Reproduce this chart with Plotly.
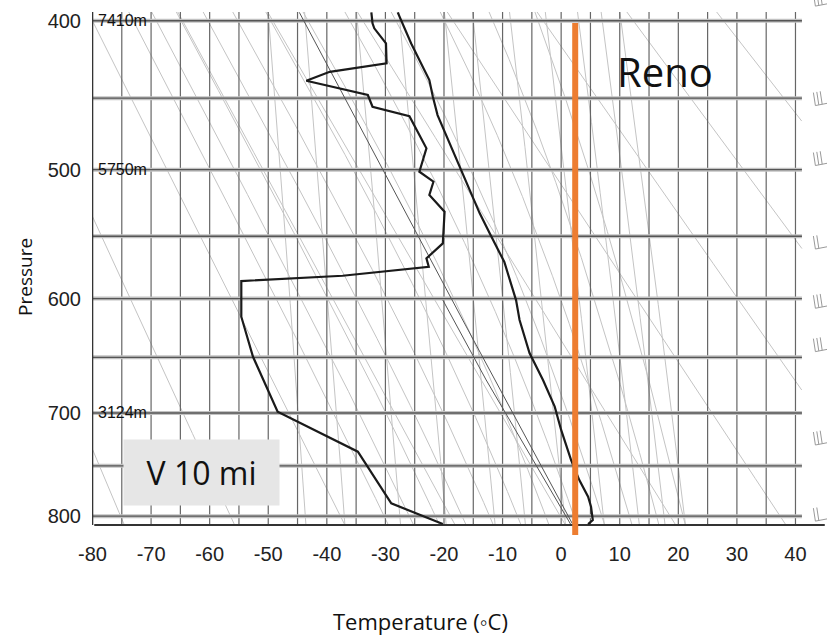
import numpy as np
import plotly.graph_objects as go

# Stuve-type diagram: temperature on x, p**KAPPA (linear) on y
KAPPA = 0.286

# ---- axis labelling ----
temperature_ticks = [-80, -70, -60, -50, -40, -30, -20, -10, 0, 10, 20, 30, 40]
pressure_ticks = [400, 500, 600, 700, 800]
isobar_levels = [400, 450, 500, 550, 600, 650, 700, 750, 800]
isotherm_levels = [-80, -75, -70, -65, -60, -55, -50, -45, -40, -35, -30, -25, -20,
                   -15, -10, -5, 0, 5, 10, 15, 20, 25, 30, 35, 40]
height_levels = [400, 500, 700]
height_text = ["7410m", "5750m", "3124m"]

# ---- diagram extent (deg C, hPa) ----
T_LEFT, T_RIGHT = -80.0, 41.1
P_TOP, P_BOTTOM = 394.6, 809.0
X_RANGE = [-80.085, 45.38]
P_RANGE = [824.4, 387.3]

# ---- sounding: temperature ----
temp_p = [394.8, 414.2, 437.9, 449.0, 461.5, 502.7, 532.4, 547.7, 570.3, 601.2,
          617.9, 646.2, 670.0, 694.2, 715.8, 744.4, 763.9, 780.4, 790.4, 803.9, 808.0]
temp_t = [-27.9, -25.6, -22.5, -21.9, -21.1, -16.8, -13.9, -12.2, -9.7, -7.7,
          -7.1, -5.4, -3.1, -1.1, 0.0, 1.7, 3.1, 4.6, 5.1, 5.4, 4.6]

# ---- sounding: dewpoint ----
dew_p = [394.8, 401.6, 404.7, 414.2, 427.0, 432.5, 438.4, 447.9, 455.8, 462.2,
         484.7, 501.5, 508.8, 518.6, 531.2, 555.6, 567.4, 574.1, 581.3, 585.6,
         615.1, 649.5, 698.8, 736.4, 787.0, 808.0]
dew_t = [-32.4, -32.2, -31.9, -29.9, -29.8, -39.5, -43.5, -33.0, -32.2, -25.9,
         -23.0, -24.2, -21.8, -22.5, -19.9, -20.2, -23.0, -22.6, -37.3, -54.6,
         -54.6, -52.6, -48.4, -34.7, -29.0, -20.2]

# ---- lifted parcel / surface adiabat ----
parcel_p = [394.8, 617.9, 807.5]
parcel_t = [-44.7, -16.8, 1.9]
surface_p = [601.2, 670.0, 809.0]
surface_t = [-20.2, -12.8, 1.7]

# ---- reference line families ----
dry_theta = [211, 231, 251, 271, 291, 311, 331, 351, 371, 391, 411]        # K
moist_theta_w = [-16, -12, -8, -4, 0, 4, 8, 12, 16, 20, 24, 28]           # deg C at 1000 hPa
mixing_ratios = [0.1, 0.2, 0.5, 1, 2, 3, 5, 8, 12, 16, 20]                # g/kg

# ---- marked temperature ----
marker_t = 2.4
marker_p = [401.4, 819.3]

# ---- wind barbs along the right edge ----
barb_p = [391, 455, 497, 560, 608, 645, 730, 805]
barb_feathers = [3, 3, 3, 2, 3, 3, 3, 2]


def u(p):
    return np.asarray(p, dtype=float) ** KAPPA


P_LINE = np.linspace(P_TOP, P_BOTTOM, 900)


def dry_adiabat(theta):
    return theta * (P_LINE / 1000.0) ** KAPPA - 273.15


def sat_vp(tc):
    return 6.112 * np.exp(17.67 * tc / (tc + 243.5))


def mixing_ratio_line(w):
    e = (w / 1000.0) * P_LINE / (0.622 + w / 1000.0)
    lg = np.log(e / 6.112)
    return 243.5 * lg / (17.67 - lg)


def moist_adiabat(t1000):
    rd, cp, lv, eps = 287.04, 1005.7, 2.501e6, 0.622

    def lapse(p, tk):
        es = sat_vp(tk - 273.15)
        rs = eps * es / (p - es)
        return (rd * tk + lv * rs) / (p * (cp + lv * lv * rs * eps / (rd * tk * tk)))

    ps = np.linspace(1000.0, P_TOP - 1.0, 3000)
    tk = t1000 + 273.15
    out = [tk]
    for i in range(len(ps) - 1):
        dp = ps[i + 1] - ps[i]
        k1 = lapse(ps[i], tk)
        k2 = lapse(ps[i] + dp / 2, tk + k1 * dp / 2)
        tk = tk + k2 * dp
        out.append(tk)
    out = np.array(out)
    return np.interp(P_LINE, ps[::-1], out[::-1]) - 273.15


def polyline(curves, clip=True):
    xs, ys = [], []
    for t, p in curves:
        t = np.asarray(t, dtype=float)
        yy = u(p)
        if clip:
            t = np.where((t >= T_LEFT - 1e-9) & (t <= T_RIGHT + 1e-9), t, np.nan)
        xs += [None if np.isnan(v) else float(v) for v in t] + [None]
        ys += [float(v) for v in yy] + [None]
    return xs, ys


fig = go.Figure()


def add(curves, color, width, clip=True):
    xs, ys = polyline(curves, clip)
    fig.add_trace(go.Scatter(x=xs, y=ys, mode="lines", line=dict(color=color, width=width),
                             hoverinfo="skip", showlegend=False, connectgaps=False))


# reference line families
add([(dry_adiabat(th), P_LINE) for th in dry_theta], "#c4c4c4", 1)
add([(moist_adiabat(tw), P_LINE) for tw in moist_theta_w], "#c4c4c4", 1)
add([(mixing_ratio_line(w), P_LINE) for w in mixing_ratios], "#c4c4c4", 1)

# isotherms
add([([t, t], [P_TOP, P_BOTTOM]) for t in isotherm_levels[1:]], "#666666", 1.2)

# isobars: soft halo plus darker core
iso = [([T_LEFT, T_RIGHT], [p, p]) for p in isobar_levels]
add(iso, "#c2c2c2", 4)
add(iso, "#555555", 1.3)

# parcel curves
add([(parcel_t, parcel_p), (surface_t, surface_p)], "#555555", 1)

# frame
add([([T_LEFT, T_LEFT], [P_TOP, P_BOTTOM])], "#333333", 1.6)
add([([-79.7, 45.0], [P_BOTTOM, P_BOTTOM])], "#333333", 2, clip=False)

# sounding
add([(temp_t, temp_p)], "#1a1a1a", 2.2, clip=False)
add([(dew_t, dew_p)], "#1a1a1a", 2.2, clip=False)

# wind barbs (feather end of each staff)
PX_T = 5.858     # px per deg C
PX_U = 407.4     # px per unit of p**KAPPA
bx, by = [], []
for p, n in zip(barb_p, barb_feathers):
    t0 = 43.4
    y0 = float(u(p))
    bx += [t0, t0 + 26 / PX_T, None]
    by += [y0, y0 - 5 / PX_U, None]
    for k in range(n):
        tk = t0 + k * 3.4 / PX_T
        yk = y0 - k * 3.4 * (5 / 26) / PX_U
        bx += [tk, tk - 2 / PX_T, None]
        by += [yk, yk - 13 / PX_U, None]
fig.add_trace(go.Scatter(x=bx, y=by, mode="lines", line=dict(color="#9a9a9a", width=1),
                         hoverinfo="skip", showlegend=False))

# marked temperature line
fig.add_trace(go.Scatter(x=[marker_t, marker_t], y=u(marker_p), mode="lines",
                         line=dict(color="#ED7D31", width=6),
                         hoverinfo="skip", showlegend=False))

narrow = "Liberation Sans Narrow, Arial Narrow, Liberation Sans, sans-serif"
body = "Open Sans, Noto Sans, sans-serif"

annotations = []
for p, txt in zip(height_levels, height_text):
    annotations.append(dict(x=T_LEFT, y=float(u(p)), xref="x", yref="y", text=txt,
                            showarrow=False, xanchor="left", yanchor="middle", xshift=3,
                            font=dict(family=narrow, size=16, color="#111111")))

annotations += [
    dict(x=0.7796, y=0.8685, xref="paper", yref="paper", text="Reno", showarrow=False,
         xanchor="center", yanchor="middle",
         font=dict(family=body, size=40, color="#111111")),
    dict(x=0.149, y=0.125, xref="paper", yref="paper", text="V 10 mi", showarrow=False,
         xanchor="center", yanchor="middle",
         width=155, height=65, bgcolor="#e6e6e6", borderpad=0,
         font=dict(family=body, size=32, color="#111111")),
    dict(x=-0.0912, y=0.487, xref="paper", yref="paper", text="Pressure", showarrow=False,
         xanchor="center", yanchor="middle", textangle=-90,
         font=dict(family=body, size=19, color="#111111")),
    dict(x=0.4476, y=-0.15, xref="paper", yref="paper", text="Temperature (\u25e6C)",
         showarrow=False, xanchor="center", yanchor="middle",
         font=dict(family=body, size=22, color="#111111")),
]

fig.update_layout(
    width=827, height=635,
    margin=dict(l=92, r=0, t=0, b=95),
    paper_bgcolor="white", plot_bgcolor="white",
    showlegend=False,
    annotations=annotations,
    xaxis=dict(range=X_RANGE, tickvals=temperature_ticks,
               ticktext=[str(v) for v in temperature_ticks],
               showgrid=False, zeroline=False, showline=False, ticks="",
               tickfont=dict(family=narrow, size=20, color="#222222")),
    yaxis=dict(range=[float(u(P_RANGE[0])), float(u(P_RANGE[1]))],
               tickvals=[float(v) for v in u(pressure_ticks)],
               ticktext=[str(v) for v in pressure_ticks],
               showgrid=False, zeroline=False, showline=False, ticks="",
               ticklabelstandoff=10,
               tickfont=dict(family=narrow, size=20, color="#222222")),
)

fig.write_html("out.html")
